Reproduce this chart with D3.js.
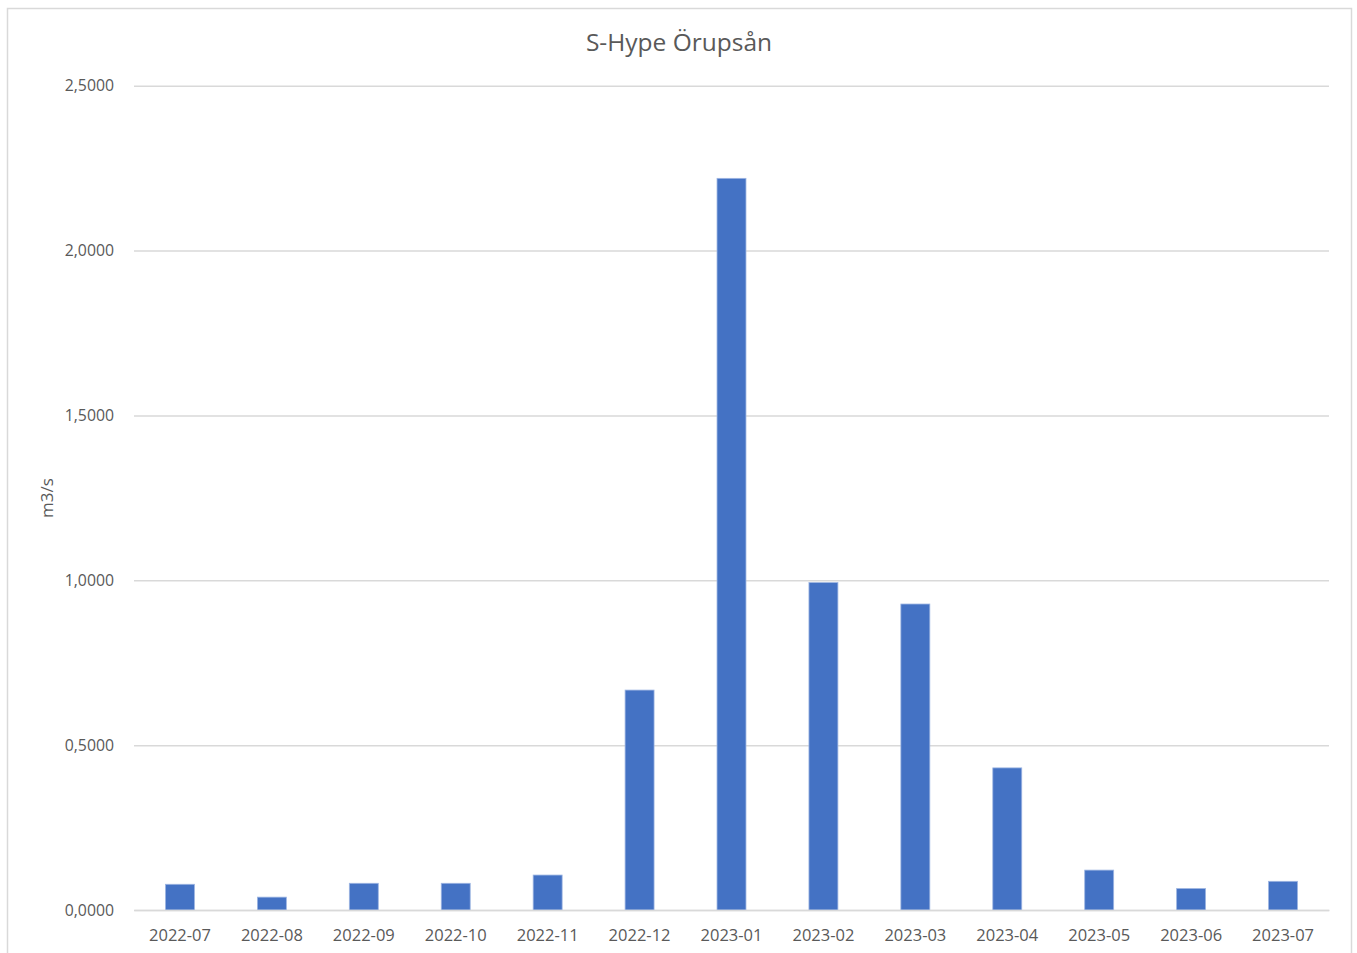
<!DOCTYPE html>
<html>
<head>
<meta charset="utf-8">
<script src="https://cdn.jsdelivr.net/npm/d3@7"></script>
<style>
  html, body { margin: 0; padding: 0; background: #fff; }
  svg { display: block; }
  text { font-family: "Open Sans", "Noto Sans", sans-serif; fill: #595959; }
</style>
</head>
<body>
<svg id="chart" width="1357" height="953"></svg>
<script>
// Monthly mean discharge, S-Hype model, Örupsån
const months = ["2022-07", "2022-08", "2022-09", "2022-10", "2022-11", "2022-12",
                "2023-01", "2023-02", "2023-03", "2023-04", "2023-05", "2023-06", "2023-07"];
const flow = [0.078, 0.039, 0.081, 0.081, 0.106, 0.667,
              2.219, 0.993, 0.928, 0.431, 0.121, 0.065, 0.087];
const yTicks = [0, 0.5, 1.0, 1.5, 2.0, 2.5];

const titleText = "S-Hype Örupsån";
const yLabel = "m3/s";

const svg = d3.select("#chart");
const plot = { left: 134, right: 1329, top: 85.7, bottom: 910 };

// Outer chart frame
svg.append("rect")
  .attr("x", 7.5).attr("y", 8.5)
  .attr("width", 1344).attr("height", 980)
  .attr("fill", "none").attr("stroke", "#d9d9d9").attr("stroke-width", 1.5);

const x = d3.scaleBand().domain(months)
  .range([plot.left, plot.right])
  .paddingInner(0.685).paddingOuter(0.3425);

const y = d3.scaleLinear().domain([0, 2.5]).range([plot.bottom, plot.top]);

const fmt = v => d3.format(".4f")(v).replace(".", ",");

// Horizontal gridlines and value labels
const yAxis = d3.axisLeft(y).tickValues(yTicks).tickFormat(fmt)
  .tickSize(-(plot.right - plot.left)).tickPadding(20);
const gy = svg.append("g").attr("transform", `translate(${plot.left},0)`).call(yAxis);
gy.select(".domain").remove();
gy.selectAll(".tick line").attr("stroke", "#d9d9d9").attr("stroke-width", 1.5);
gy.selectAll(".tick text").attr("font-size", 15.8).attr("fill", "#595959")
  .style("font-family", "'Open Sans', sans-serif");

// Bars
svg.append("g").selectAll("rect").data(months).join("rect")
  .attr("x", d => x(d))
  .attr("width", x.bandwidth())
  .attr("y", (d, i) => y(flow[i]))
  .attr("height", (d, i) => y(0) - y(flow[i]))
  .attr("fill", "#4472c4")
  .attr("stroke", "#9db5e2").attr("stroke-width", 0.8);

// Category axis
const xAxis = d3.axisBottom(x).tickSize(0).tickPadding(19);
const gx = svg.append("g").attr("transform", `translate(0,${plot.bottom})`).call(xAxis);
gx.select(".domain").attr("stroke", "#d9d9d9").attr("stroke-width", 1.5);
gx.selectAll(".tick text").attr("font-size", 16.5).attr("fill", "#595959")
  .style("font-family", "'Open Sans', sans-serif");

// Title
svg.append("text")
  .attr("x", 679).attr("y", 51)
  .attr("text-anchor", "middle")
  .attr("font-size", 24.5)
  .text(titleText);

// Vertical axis title
svg.append("text")
  .attr("transform", "translate(53,498) rotate(-90)")
  .attr("text-anchor", "middle")
  .attr("font-size", 17)
  .text(yLabel);
</script>
</body>
</html>
